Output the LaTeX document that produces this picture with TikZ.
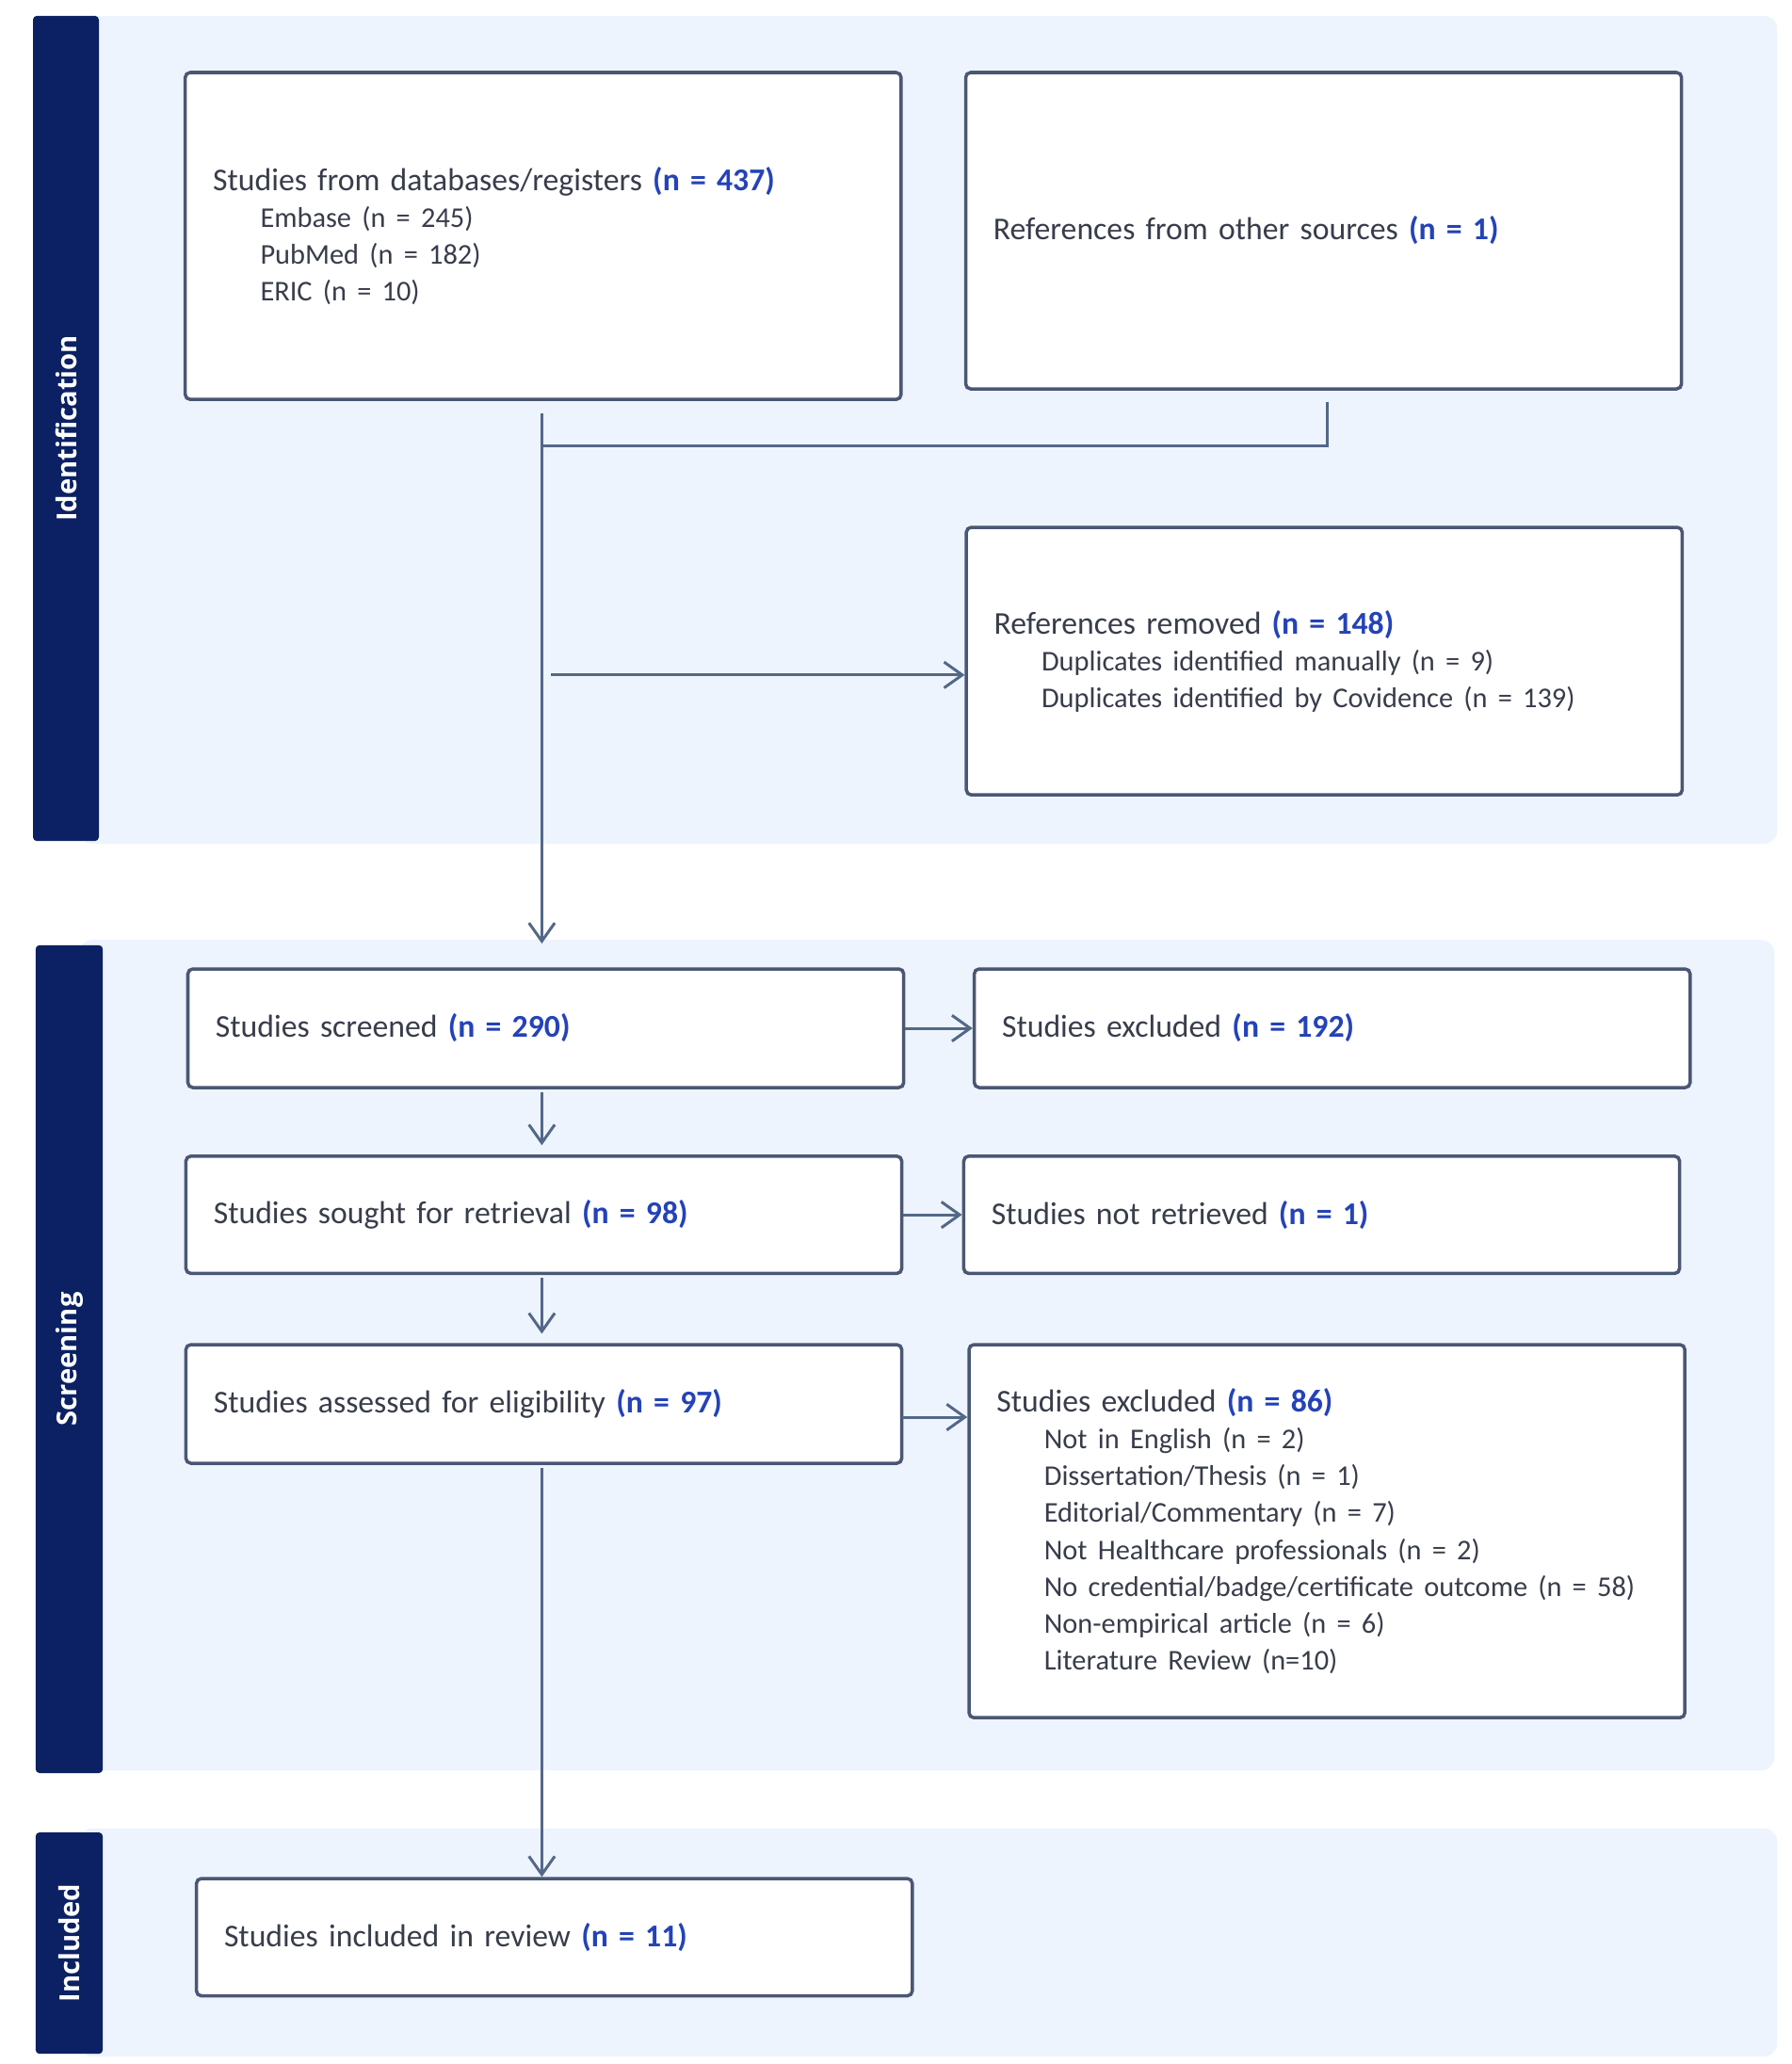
\documentclass[tikz,border=0pt]{standalone}
\usepackage{fontspec}
\setmainfont{Carlito}
\newfontfamily\barfont{Open Sans}
\usetikzlibrary{arrows.meta}
\definecolor{panelbg}{HTML}{EEF4FD}
\definecolor{barnavy}{HTML}{0B2163}
\definecolor{boxline}{HTML}{4A5774}
\definecolor{conn}{HTML}{536888}
\definecolor{txt}{HTML}{383D4B}
\definecolor{cnt}{HTML}{2443B8}
\newlength\px
\setlength\px{0.014cm}
\newcommand{\cn}[1]{\textcolor{cnt}{\bfseries #1}}
\newcommand{\hd}{\fontsize{9.6}{11.15}\selectfont}
\newcommand{\sbl}[1]{\\\hspace*{36\px}{\fontsize{8.65}{11.15}\selectfont #1}}
\tikzset{
  flowbox/.style={draw=boxline, line width=1.0pt, fill=white, rounded corners=1.5pt,
    inner xsep=21\px, inner ysep=0pt, text width=501\px, align=left,
    text=txt, font=\hd},
  arr/.style={draw=conn, line width=0.85pt, -{Straight Barb[length=5.5pt,width=7.8pt,line width=0.85pt]}},
  ln/.style={draw=conn, line width=0.85pt},
  barlabel/.style={rotate=90, text=white, font=\barfont\bfseries\fontsize{8.3}{10}\selectfont}
}
\begin{document}
\begin{tikzpicture}[x=0.014cm,y=-0.014cm]
\useasboundingbox (0,0) rectangle (1358.6,1565.7);
\fill[white] (0,0) rectangle (1358.6,1565.7);
% panels
\fill[panelbg, rounded corners=10\px] (60,12) rectangle (1348,640);
\fill[panelbg, rounded corners=10\px] (60,713) rectangle (1346,1343);
\fill[panelbg, rounded corners=10\px] (60,1387) rectangle (1348,1560);
\fill[barnavy, rounded corners=3\px] (25,12) rectangle (75,638);
\fill[barnavy, rounded corners=3\px] (27,717) rectangle (78,1345);
\fill[barnavy, rounded corners=3\px] (27,1390) rectangle (78,1558);
\node[barlabel] (lid) at (50,325) {Identification};
\node[barlabel] (lsc) at (52.5,1031) {Screening};
\node[barlabel] (lin) at (52.5,1474) {Included};
% boxes
\node[flowbox, minimum height=248\px] (b1) at (412,179) {Studies from databases/registers \cn{(n = 437)}%
\sbl{Embase (n = 245)}\sbl{PubMed (n = 182)}\sbl{ERIC (n = 10)}};
\node[flowbox, minimum height=240\px] (b2) at (1004,175) {References from other sources \cn{(n = 1)}};
\node[flowbox, minimum height=203\px] (b3) at (1004.5,501.5) {References removed \cn{(n = 148)}%
\sbl{Duplicates identified manually (n = 9)}\sbl{Duplicates identified by Covidence (n = 139)}};
\node[flowbox, minimum height=90\px] (s1) at (414,780) {Studies screened \cn{(n = 290)}};
\node[flowbox, minimum height=90\px] (s1x) at (1010.5,780) {Studies excluded \cn{(n = 192)}};
\node[flowbox, minimum height=89\px] (s2) at (412.5,921.5) {Studies sought for retrieval \cn{(n = 98)}};
\node[flowbox, minimum height=89\px] (s2x) at (1002.5,921.5) {Studies not retrieved \cn{(n = 1)}};
\node[flowbox, minimum height=90\px] (s3) at (412.5,1065) {Studies assessed for eligibility \cn{(n = 97)}};
\node[flowbox, minimum height=283\px] (s3x) at (1006.5,1161.5) {Studies excluded \cn{(n = 86)}%
\sbl{Not in English (n = 2)}\sbl{Dissertation/Thesis (n = 1)}\sbl{Editorial/Commentary (n = 7)}%
\sbl{Not Healthcare professionals (n = 2)}\sbl{No credential/badge/certificate outcome (n = 58)}%
\sbl{Non-empirical article (n = 6)}\sbl{Literature Review (n=10)}};
\node[flowbox, minimum height=89\px] (i1) at (420.5,1469.5) {Studies included in review \cn{(n = 11)}};
% connectors
\coordinate (tx) at (411,0);
\coordinate (jn) at (411,338);
\coordinate (rb) at (418,512);
\draw[arr, shorten <=9\px, shorten >=18\px] (b1.south -| tx) -- (s1.north -| tx);
\draw[ln, shorten <=9\px] (b2.south) ++(3,0) coordinate (b2s) (b2s) |- (jn);
\draw[arr] (rb) -- (rb -| b3.west);
\draw[arr] (s1.east) -- (s1x.west);
\draw[arr, shorten <=2\px, shorten >=7\px] (s1.south -| tx) -- (s2.north -| tx);
\draw[arr] (s2.east) -- (s2x.west);
\draw[arr, shorten <=2\px, shorten >=7\px] (s2.south -| tx) -- (s3.north -| tx);
\coordinate (ea) at (684,1075);
\draw[arr] (ea) -- (ea -| s3x.west);
\draw[arr, shorten <=2\px] (s3.south -| tx) -- (i1.north -| tx);
\end{tikzpicture}
\end{document}
